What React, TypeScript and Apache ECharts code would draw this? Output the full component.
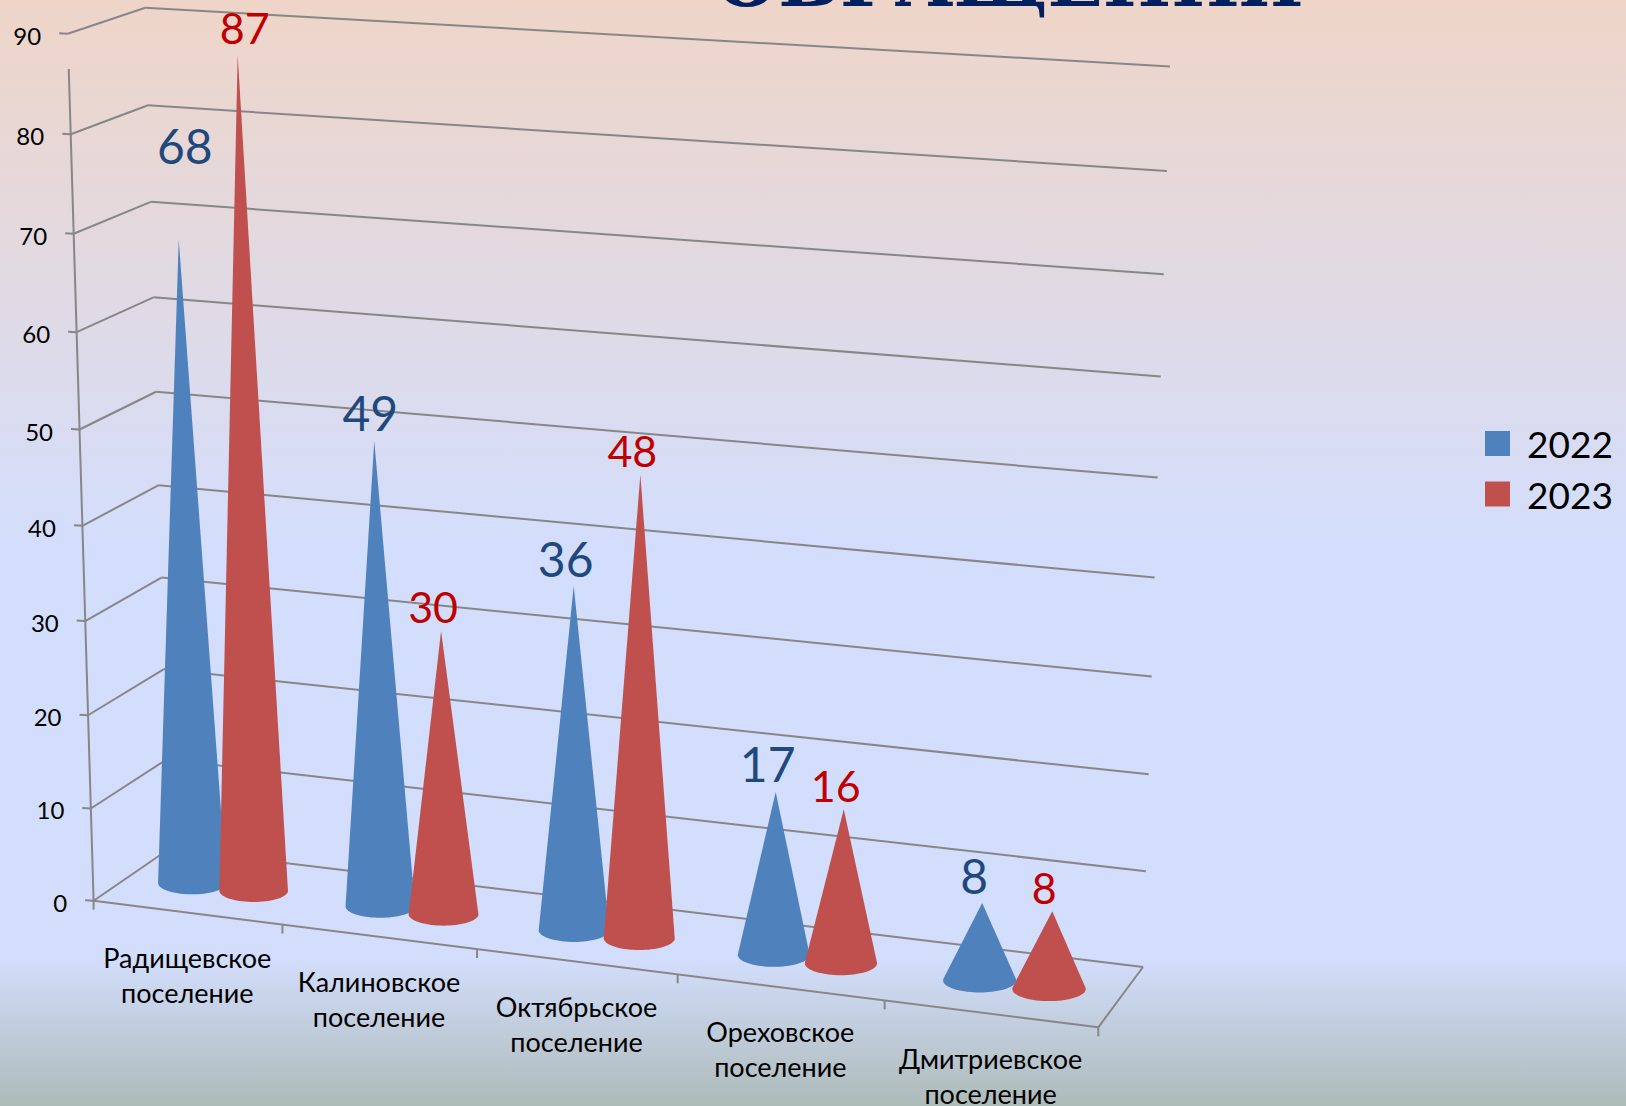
import React, { useEffect, useRef } from "react";
import * as echarts from "echarts";

const categories = [
  "Радищевское\nпоселение",
  "Калиновское\nпоселение",
  "Октябрьское\nпоселение",
  "Ореховское\nпоселение",
  "Дмитриевское\nпоселение",
];
const values2022 = [68, 49, 36, 17, 8];
const values2023 = [87, 30, 48, 16, 8];
const valueTicks = [0, 10, 20, 30, 40, 50, 60, 70, 80, 90];
const titleText = "ОБРАЩЕНИЯ";

const FONT = "Lato, 'Open Sans', sans-serif";
const LINE = "#878787";
const BLUE = "#4F81BD";
const RED = "#C0504D";
const BLUE_TEXT = "#1F497D";
const RED_TEXT = "#C00000";

// Hidden cartesian grid: its scales feed the 3D projection below.
const GRID = { left: 100, top: 100, width: 1000, height: 900 };
const AXIS_MAX = 90;

// Projected corners of the 3D box, [u, depth] on the unit square (depth 0 = back wall).
const FLOOR: number[][] = [[169, 849], [1143, 967], [1098.3, 1027.3], [93.6, 900.7]];
const CEILING: number[][] = [[145.3, 7.7], [1170, 66.4], [1123.8, 99.3], [67.7, 33.7]];
const HEIGHT_PERSPECTIVE = 1.05;

function homography(q: number[][]) {
  const [[x0, y0], [x1, y1], [x2, y2], [x3, y3]] = q;
  const dx1 = x1 - x2, dx2 = x3 - x2, sx = x0 - x1 + x2 - x3;
  const dy1 = y1 - y2, dy2 = y3 - y2, sy = y0 - y1 + y2 - y3;
  const den = dx1 * dy2 - dx2 * dy1;
  const g = (sx * dy2 - dx2 * sy) / den;
  const h = (dx1 * sy - sx * dy1) / den;
  const a = x1 - x0 + g * x1, b = x3 - x0 + h * x3;
  const d = y1 - y0 + g * y1, e = y3 - y0 + h * y3;
  return (u: number, v: number) => {
    const w = g * u + h * v + 1;
    return [(a * u + b * v + x0) / w, (d * u + e * v + y0) / w];
  };
}
const floorH = homography(FLOOR);
const ceilH = homography(CEILING);

// u: 0..1 along categories, s: 0..1 of the value axis, z: 0 back .. 1 front
function project(u: number, s: number, z: number) {
  const b = floorH(u, z);
  const t = ceilH(u, z);
  const k = s / (s + HEIGHT_PERSPECTIVE * (1 - s));
  return [b[0] + k * (t[0] - b[0]), b[1] + k * (t[1] - b[1])];
}

const toU = (px: number) => (px - GRID.left) / GRID.width;
const toS = (py: number) => (GRID.top + GRID.height - py) / GRID.height;

function hull(pts: number[][]) {
  const p = pts.slice().sort((a, b) => a[0] - b[0] || a[1] - b[1]);
  const cross = (o: number[], a: number[], b: number[]) =>
    (a[0] - o[0]) * (b[1] - o[1]) - (a[1] - o[1]) * (b[0] - o[0]);
  const lo: number[][] = [];
  for (const q of p) {
    while (lo.length >= 2 && cross(lo[lo.length - 2], lo[lo.length - 1], q) <= 0) lo.pop();
    lo.push(q);
  }
  const up: number[][] = [];
  for (let i = p.length - 1; i >= 0; i--) {
    const q = p[i];
    while (up.length >= 2 && cross(up[up.length - 2], up[up.length - 1], q) <= 0) up.pop();
    up.push(q);
  }
  return lo.slice(0, -1).concat(up.slice(0, -1));
}

const CONE_DEPTH = 0.52;
const CLUSTER_OFFSET = 0.165 / 5;
const ELLIPSE_RATIO = 0.165;
const APEX_LEAN = 20;
const APEX_RISE = 3.5;
const coneRadius = (u: number) => (0.185 - 0.012 * u) / 5;
const leanFactor = (u: number) => Math.min(1, 0.28 + 1.75 * u);

// Label offsets from each cone's apex
const labelOffset = (series: number, i: number) => {
  if (series === 0) return i === 0 ? [6, -94] : i === 1 ? [-4, -29] : [-8, -28];
  return i === 0 ? [7, -27] : [-8, -24];
};

function coneSeries(name: string, values: number[], seriesIdx: number, color: string, textColor: string, size: number) {
  return {
    type: "custom",
    name,
    z: 3 + seriesIdx,
    itemStyle: { color },
    data: values.map((v, i) => [i, v]),
    renderItem: (params: any, api: any) => {
      const i = api.value(0);
      const v = api.value(1);
      const pt = api.coord([i, v]);
      const u = toU(pt[0]) + (seriesIdx === 0 ? -CLUSTER_OFFSET : CLUSTER_OFFSET);
      const s = toS(pt[1]);
      const raw = project(u, s, CONE_DEPTH);
      const apex = [raw[0] + s * APEX_LEAN * leanFactor(u), raw[1] - s * APEX_RISE];
      const c = project(u, 0, CONE_DEPTH);
      const l = project(u - coneRadius(u), 0, CONE_DEPTH);
      const r = project(u + coneRadius(u), 0, CONE_DEPTH);
      const hx = (r[0] - l[0]) / 2;
      const minor = hx * 2 * ELLIPSE_RATIO;
      const pts = [apex];
      for (let k = 0; k < 72; k++) {
        const th = (k / 72) * Math.PI * 2;
        pts.push([c[0] + Math.cos(th) * hx, c[1] + Math.sin(th) * minor]);
      }
      const off = labelOffset(seriesIdx, i);
      return {
        type: "group",
        children: [
          { type: "polygon", shape: { points: hull(pts) }, style: { fill: color }, silent: true },
          {
            type: "text",
            z2: 10,
            silent: true,
            style: {
              text: String(v),
              x: apex[0] + off[0],
              y: apex[1] + off[1],
              fill: textColor,
              fontSize: size,
              fontFamily: FONT,
              align: "center",
              verticalAlign: "middle",
            },
          },
        ],
      };
    },
  };
}

const line = (a: number[], b: number[]) => ({
  type: "line",
  shape: { x1: a[0], y1: a[1], x2: b[0], y2: b[1] },
  style: { stroke: LINE, lineWidth: 2 },
  silent: true,
});

const catText = (text: string, x: number, y: number) => ({
  type: "text",
  silent: true,
  style: {
    text,
    x,
    y,
    fill: "#000",
    fontSize: 27,
    lineHeight: 20,
    fontFamily: FONT,
    align: "center",
    verticalAlign: "middle",
  },
});

const App = () => {
  const ref = useRef<HTMLDivElement>(null);
  useEffect(() => {
    const chart = echarts.init(ref.current!, null, { renderer: "svg" });
    const option: any = {
      animation: false,
      backgroundColor: "transparent",
      title: {
        text: titleText,
        left: 710,
        top: -61,
        textStyle: {
          color: "#002060",
          fontFamily: "'DejaVu Serif', serif",
          fontWeight: "bold",
          fontSize: 72.5,
        },
      },
      legend: {
        data: ["2022", "2023"],
        orient: "vertical",
        left: 1485,
        top: 425,
        padding: 0,
        itemWidth: 25,
        itemHeight: 25,
        itemGap: 13.5,
        icon: "rect",
        selectedMode: false,
        textStyle: { color: "#000", fontFamily: FONT, fontSize: 37, lineHeight: 25, padding: [0, 0, 0, 12] },
      },
      grid: { show: false, ...GRID },
      xAxis: { type: "category", data: categories, show: false },
      yAxis: { type: "value", min: 0, max: AXIS_MAX, interval: 10, show: false },
      series: [
        {
          type: "custom",
          name: "value axis",
          z: 1,
          data: valueTicks.map((v) => [0, v]),
          renderItem: (params: any, api: any) => {
            const v = api.value(1);
            const s = toS(api.coord([0, v])[1]);
            const fl = project(0, s, 1);
            const bl = project(0, s, 0);
            const br = project(1, s, 0);
            const children: any[] = [
              line(fl, bl),
              line(bl, br),
              line([fl[0] - 8.5, fl[1] - 0.5], fl),
              {
                type: "text",
                silent: true,
                style: {
                  text: String(v),
                  x: fl[0] - 26.5,
                  y: fl[1] + 1.5,
                  fill: "#000",
                  fontSize: 24,
                  fontFamily: FONT,
                  align: "right",
                  verticalAlign: "middle",
                },
              },
            ];
            if (v === 0) {
              const fr = project(1, 0, 1);
              children.push(line(fl, fr), line(fr, br), line(fl, project(0, 86.5 / AXIS_MAX, 1)));
              children.push(line(fr, [fr[0], fr[1] + 9]));
            }
            return { type: "group", children };
          },
        },
        {
          type: "custom",
          name: "category axis",
          z: 1,
          data: categories.map((c, i) => [i, 0]),
          renderItem: (params: any, api: any) => {
            const i = api.value(0);
            const pt = api.coord([i, 0]);
            const band = api.size([1, 0])[0];
            const left = project(toU(pt[0] - band / 2), 0, 1);
            const mid = project(toU(pt[0]), 0, 1);
            const [l1, l2] = categories[i].split("\n");
            return {
              type: "group",
              children: [
                line(left, [left[0], left[1] + 9]),
                catText(l1, mid[0], mid[1] + 44.5),
                catText(l2, mid[0], mid[1] + 79.5),
              ],
            };
          },
        },
        coneSeries("2022", values2022, 0, BLUE, BLUE_TEXT, 48),
        coneSeries("2023", values2023, 1, RED, RED_TEXT, 43),
      ],
    };
    chart.setOption(option);
    return () => chart.dispose();
  }, []);
  return (
    <div
      ref={ref}
      style={{
        position: "absolute",
        left: 0,
        top: 0,
        width: 1626,
        height: 1106,
        overflow: "hidden",
        background:
          "linear-gradient(180deg, #EFD5C8 0%, #D3DEFD 50%, #D3DEFD 86.5%, #ADBBB9 100%)",
      }}
    />
  );
};

export default App;
